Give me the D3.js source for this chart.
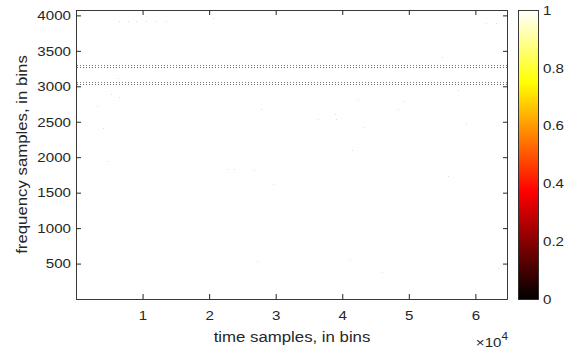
<!DOCTYPE html>
<html>
<head>
<meta charset="utf-8">
<script src="https://cdn.jsdelivr.net/npm/d3@7"></script>
<style>
  html, body { margin: 0; padding: 0; background: #fff; }
  svg { display: block; font-family: "Liberation Sans", Arial, sans-serif; }
</style>
</head>
<body>
<script>
// data
const timeRange = [0, 64900]          // time bins
const freqRange = [0.5, 4076]         // frequency bins shown
const xTicks = [10000, 20000, 30000, 40000, 50000, 60000]
const xTickLabels = ["1", "2", "3", "4", "5", "6"]
const yTicks = [500, 1000, 1500, 2000, 2500, 3000, 3500, 4000]
const cbTicks = [0, 0.2, 0.4, 0.6, 0.8, 1]

// rows with periodic low values (dotted lines)
const lineFreqs = [3303, 3275, 3063, 3035]
const lineValues = [0.5, 0.45, 0.5, 0.42]

// isolated faint specks [time, freq]
const speckTimes = [6456, 7808, 9009, 10510, 11862, 13514, 20526, 61667, 63168,
  5255, 6501, 3198, 27823, 42342, 49054, 48303, 38889, 36381, 39039, 58604,
  43048, 4099, 41441, 4610, 22868, 23769, 26772, 55901, 29625, 57357,
  27132, 41141, 45900, 63408, 54910, 6351]
const speckFreqs = [3923, 3923, 3923, 3923, 3923, 3923, 3965, 3894, 3894,
  2890, 2852, 2726, 2679, 2824, 2792, 2679, 2603, 2539, 2539, 2472,
  2426, 2412, 2096, 1947, 1835, 1835, 1825, 1730, 1623, 2951,
  543, 568, 378, 431, 3411, 3116]

const W = 579, H = 349
const margin = { left: 76, right: 71, top: 10, bottom: 50 }
const x0 = margin.left, x1 = W - margin.right
const y0 = margin.top, y1 = H - margin.bottom
const axisColor = "#262626"
const stretch = 1.12   // the picture's text is a little wide for its height

// MATLAB "hot" colormap
function hot(t) {
  const r = Math.min(1, t / 0.375)
  const g = Math.max(0, Math.min(1, (t - 0.375) / 0.375))
  const b = Math.max(0, Math.min(1, (t - 0.75) / 0.25))
  return d3.rgb(r * 255, g * 255, b * 255).formatHex()
}

const x = d3.scaleLinear().domain(timeRange).range([x0, x1])
const y = d3.scaleLinear().domain(freqRange).range([y1, y0])

const svg = d3.select("body").append("svg")
  .attr("width", W).attr("height", H)

// background: everything at value 1
svg.append("rect")
  .attr("x", x0).attr("y", y0)
  .attr("width", x1 - x0).attr("height", y1 - y0)
  .attr("fill", hot(1))

const plot = svg.append("g")

plot.selectAll(".row")
  .data(lineFreqs)
  .join("line")
  .attr("class", "row")
  .attr("x1", x(timeRange[0]) + 1).attr("x2", x(timeRange[1]))
  .attr("y1", d => Math.round(y(d)) + 0.5)
  .attr("y2", d => Math.round(y(d)) + 0.5)
  .attr("stroke", (d, i) => d3.interpolateRgb("#000", "#fff")(lineValues[i]))
  .attr("stroke-width", 1)
  .attr("stroke-dasharray", "1 2")
  .attr("shape-rendering", "crispEdges")

plot.selectAll(".speck")
  .data(speckTimes)
  .join("rect")
  .attr("class", "speck")
  .attr("x", d => Math.round(x(d)))
  .attr("y", (d, i) => Math.round(y(speckFreqs[i])))
  .attr("width", 1).attr("height", 1)
  .attr("fill", "#dcdcdc")

// axes with inward ticks on all sides
const tickLen = 5
const xAxisB = d3.axisBottom(x).tickValues(xTicks)
  .tickFormat((d, i) => xTickLabels[i]).tickSizeInner(-tickLen).tickSizeOuter(0).tickPadding(11)
const xAxisT = d3.axisTop(x).tickValues(xTicks).tickFormat("").tickSizeInner(-tickLen).tickSizeOuter(0)
const yAxisL = d3.axisLeft(y).tickValues(yTicks).tickFormat(d3.format("d"))
  .tickSizeInner(-tickLen).tickSizeOuter(0).tickPadding(5)
const yAxisR = d3.axisRight(y).tickValues(yTicks).tickFormat("").tickSizeInner(-tickLen).tickSizeOuter(0)

function styleAxis(g) {
  g.selectAll("path, line").attr("stroke", axisColor)
  g.select(".domain").remove()
  g.selectAll("text").attr("fill", axisColor).attr("font-size", 13.5)
    .attr("font-family", "Liberation Sans, Arial, sans-serif")
    .attr("transform", function() {
      const tx = +this.getAttribute("x") || 0
      const ty = +this.getAttribute("y") || 0
      return `translate(${tx},${ty}) scale(${stretch},1)`
    })
    .attr("x", 0).attr("y", 0)
}

svg.append("g").attr("transform", `translate(0,${y1})`).call(xAxisB).call(styleAxis)
svg.append("g").attr("transform", `translate(0,${y0})`).call(xAxisT).call(styleAxis)
svg.append("g").attr("transform", `translate(${x0},0)`).call(yAxisL).call(styleAxis)
svg.append("g").attr("transform", `translate(${x1},0)`).call(yAxisR).call(styleAxis)

svg.append("rect")
  .attr("x", x0 + 0.5).attr("y", y0 + 0.5)
  .attr("width", x1 - x0 - 1).attr("height", y1 - y0)
  .attr("fill", "none").attr("stroke", axisColor).attr("stroke-width", 0.9)

// axis labels
svg.append("text")
  .attr("transform", `translate(${(x0 + x1) / 2},342) scale(${stretch},1)`)
  .attr("text-anchor", "middle").attr("font-size", 15).attr("fill", axisColor)
  .text("time samples, in bins")

svg.append("text")
  .attr("transform", `translate(27,${(y0 + y1) / 2}) rotate(-90) scale(${stretch},1)`)
  .attr("text-anchor", "middle").attr("font-size", 15).attr("fill", axisColor)
  .text("frequency samples, in bins")

const expo = svg.append("text")
  .attr("transform", `translate(${x1},346.5) scale(${stretch},1)`)
  .attr("text-anchor", "end").attr("font-size", 13.5).attr("fill", axisColor)
expo.append("tspan").text("\u00d710")
expo.append("tspan").attr("dy", -6.5).attr("font-size", 10.5).text("4")

// colorbar
const cbX = 518, cbW = 20
const cb = d3.scaleLinear().domain([0, 1]).range([y1, y0])
const grad = svg.append("defs").append("linearGradient")
  .attr("id", "hotgrad").attr("x1", 0).attr("y1", 1).attr("x2", 0).attr("y2", 0)
grad.selectAll("stop")
  .data(d3.range(0, 1.0001, 0.025))
  .join("stop")
  .attr("offset", d => d)
  .attr("stop-color", d => hot(d))

svg.append("rect")
  .attr("x", cbX + 0.5).attr("y", y0 + 0.5)
  .attr("width", cbW).attr("height", y1 - y0)
  .attr("fill", "url(#hotgrad)")
  .attr("stroke", axisColor).attr("stroke-width", 0.9)

const cbAxis = d3.axisRight(cb).tickValues(cbTicks).tickFormat(d3.format("~g"))
  .tickSizeInner(0).tickSizeOuter(0).tickPadding(5)
svg.append("g").attr("transform", `translate(${cbX + cbW},0)`).call(cbAxis).call(styleAxis)
</script>
</body>
</html>
